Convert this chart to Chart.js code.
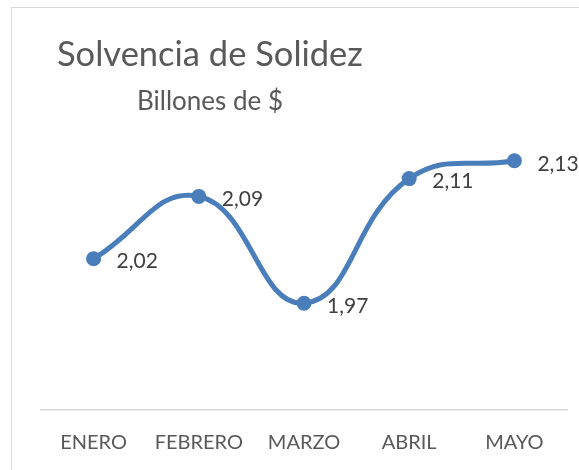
<!DOCTYPE html>
<html>
<head>
<meta charset="utf-8">
<script src="https://cdn.jsdelivr.net/npm/chart.js@4"></script>
<style>
html,body{margin:0;padding:0;background:#fff;}
#wrap{position:relative;width:579px;height:470px;}
</style>
</head>
<body>
<div id="wrap"><canvas id="c" width="579" height="470"></canvas></div>
<script>
const categories = ["ENERO", "FEBRERO", "MARZO", "ABRIL", "MAYO"];
const values = [2.02, 2.09, 1.97, 2.11, 2.13];
const titleText = "Solvencia de Solidez";
const subtitleText = "Billones de $";

const FONT = "Lato, 'Open Sans', sans-serif";

const decor = {
  id: 'decor',
  beforeDraw(chart) {
    const ctx = chart.ctx;
    ctx.save();
    ctx.fillStyle = '#fff';
    ctx.fillRect(0, 0, chart.width, chart.height);
    ctx.strokeStyle = '#d9d9d9';
    ctx.lineWidth = 1;
    ctx.strokeRect(11.5, 7.5, 900, 900);
    ctx.fillStyle = '#595959';
    ctx.textBaseline = 'alphabetic';
    ctx.textAlign = 'left';
    ctx.font = "34.5px " + FONT;
    ctx.fillText(titleText, 57, 66);
    ctx.font = "26px " + FONT;
    ctx.fillText(subtitleText, 137, 110);
    ctx.restore();
  },
  afterDatasetsDraw(chart) {
    const ctx = chart.ctx;
    const meta = chart.getDatasetMeta(0);
    ctx.save();
    ctx.fillStyle = '#404040';
    ctx.font = "21px " + FONT;
    ctx.textAlign = 'left';
    ctx.textBaseline = 'middle';
    meta.data.forEach((pt, i) => {
      const v = chart.data.datasets[0].data[i];
      const txt = v.toFixed(2).replace('.', ',');
      ctx.fillText(txt, pt.x + 23, pt.y + 3);
    });
    ctx.restore();
  }
};

new Chart(document.getElementById('c'), {
  type: 'line',
  data: {
    labels: categories,
    datasets: [{
      data: values,
      borderColor: '#4a7ebb',
      backgroundColor: '#4a7ebb',
      borderWidth: 5,
      tension: 0.45,
      pointRadius: 7.5,
      pointHoverRadius: 7.5,
      pointBackgroundColor: '#4a7ebb',
      pointBorderColor: '#4a7ebb',
      pointBorderWidth: 0,
      fill: false
    }]
  },
  options: {
    responsive: false,
    animation: false,
    devicePixelRatio: 1,
    layout: { padding: { left: 41, right: 12, top: 143, bottom: 0 } },
    plugins: { legend: { display: false }, title: { display: false }, tooltip: { enabled: false } },
    scales: {
      x: {
        offset: true,
        grid: { display: false, drawTicks: false },
        border: { display: true, color: '#d9d9d9', width: 1.5 },
        ticks: { color: '#595959', font: { family: FONT, size: 20 }, padding: 21, maxRotation: 0 },
        afterFit(scale) { scale.height = 60; }
      },
      y: {
        display: false,
        min: 1.85,
        max: 2.15
      }
    }
  },
  plugins: [decor]
});
</script>
</body>
</html>
